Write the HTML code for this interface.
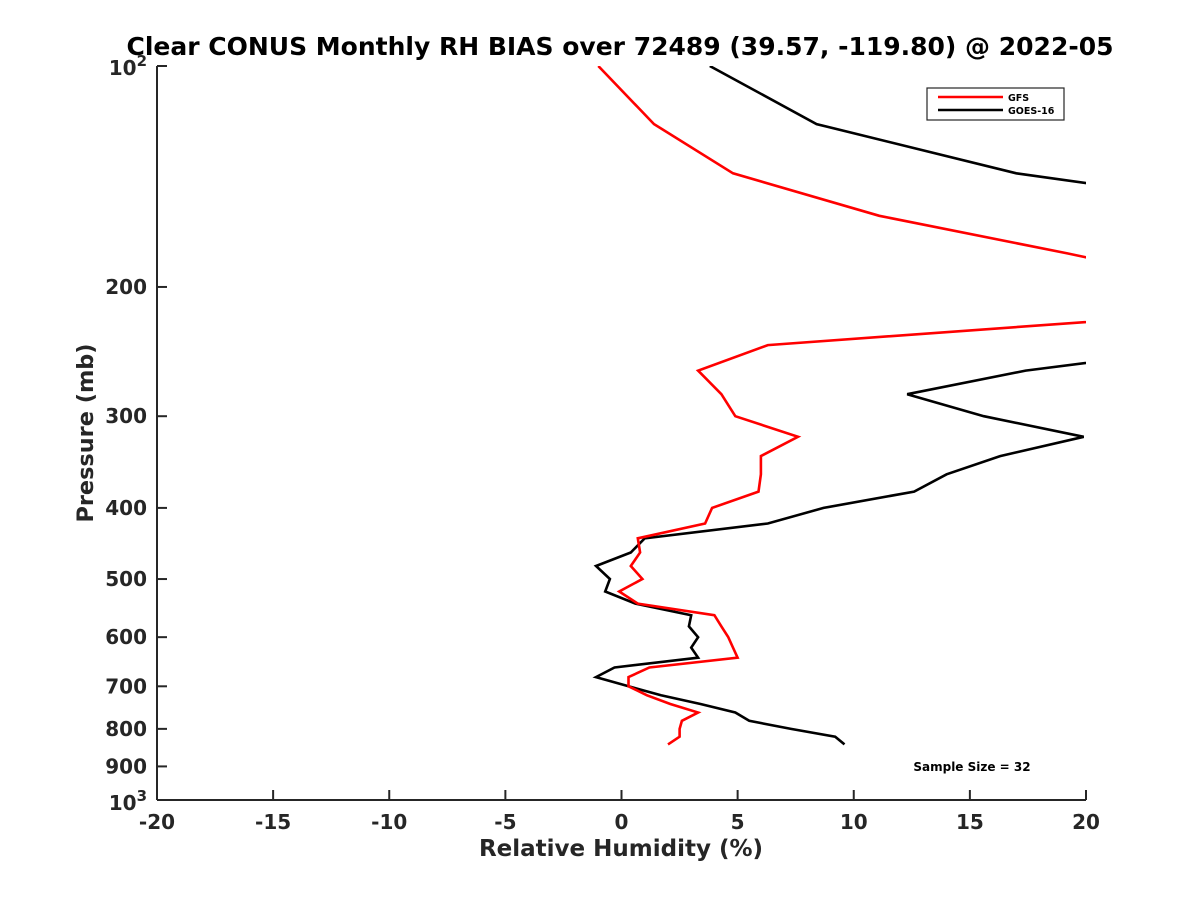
<!DOCTYPE html>
<html><head><meta charset="utf-8"><style>
body{margin:0;background:#fff;}
svg{display:block;font-family:"DejaVu Sans","Liberation Sans",sans-serif;font-weight:bold;}
</style></head><body>
<svg id="chart" width="1200" height="900" viewBox="0 0 1200 900">
<defs><clipPath id="plotclip"><rect x="157" y="66" width="929" height="734"/></clipPath></defs>
<text x="620" y="55" text-anchor="middle" font-size="25" fill="#000">Clear CONUS Monthly RH BIAS over 72489 (39.57, -119.80) @ 2022-05</text>
<g id="axes"></g>
<g id="series" clip-path="url(#plotclip)"></g>
<g>
<rect x="927" y="88" width="137" height="32" fill="#fff" stroke="#262626" stroke-width="1.2"/>
<line x1="938" y1="97" x2="1003" y2="97" stroke="#f00" stroke-width="2.5"/>
<text x="1008" y="101" font-size="9.5" fill="#000">GFS</text>
<line x1="938" y1="110" x2="1003" y2="110" stroke="#000" stroke-width="2.5"/>
<text x="1008" y="114" font-size="9.5" fill="#000">GOES-16</text>
</g>
<text x="972" y="771" text-anchor="middle" font-size="12" fill="#000">Sample Size = 32</text>
<text x="621" y="856" text-anchor="middle" font-size="23" fill="#262626">Relative Humidity (%)</text>
<text transform="translate(93,433) rotate(-90)" text-anchor="middle" font-size="22.4" fill="#262626">Pressure (mb)</text>
</svg>
<script>
const pressures=[100,120,140,160,180,200,220,240,260,280,300,320,340,360,380,400,420,440,460,480,500,520,540,560,580,600,620,640,660,680,700,720,740,760,780,800,820,840];
const gfsBias=[-1.0,1.4,4.8,11.1,19.2,26,22.8,6.3,3.3,4.3,4.9,7.6,6.0,6.0,5.9,3.9,3.6,0.7,0.8,0.4,0.9,-0.1,0.7,4.0,4.3,4.6,4.8,5.0,1.2,0.3,0.3,1.1,2.1,3.3,2.6,2.5,2.5,2.0];
const goesBias=[3.8,8.4,17.0,30,35,35,30,26,17.4,12.3,15.6,19.9,16.3,14.0,12.6,8.7,6.3,1.0,0.4,-1.1,-0.5,-0.7,0.6,3.0,2.9,3.3,3.0,3.3,-0.3,-1.1,0.3,1.7,3.4,4.9,5.5,7.3,9.2,9.6];
const xTicks=[-20,-15,-10,-5,0,5,10,15,20];
const yTicks=[200,300,400,500,600,700,800,900];
const NS="http://www.w3.org/2000/svg";
const X0=157,X1=1086,Y0=66,Y1=800;
function xs(v){return X0+(v+20)/40*(X1-X0);}
function ys(p){return Y0+(Math.log10(p)-2)*(Y1-Y0);}
function mk(tag,attrs,parent){const e=document.createElementNS(NS,tag);for(const k in attrs)e.setAttribute(k,attrs[k]);parent.appendChild(e);return e;}
const axes=document.getElementById('axes');
const ser=document.getElementById('series');
const C="#262626";
let a=mk('line',{x1:X0,y1:Y0,x2:X0,y2:Y1,stroke:C,'stroke-width':2},axes);


a=mk('line',{x1:X0,y1:Y1,x2:X1,y2:Y1,stroke:C,'stroke-width':2},axes);


xTicks.forEach(v=>{
 const t=mk('line',{x1:xs(v),y1:Y1,x2:xs(v),y2:Y1-10,stroke:C,'stroke-width':2},axes);
 
 
 const l=mk('text',{x:xs(v),y:Y1+29,'text-anchor':'middle','font-size':20,fill:C},axes);
 l.textContent=String(v);
 
 
});
yTicks.forEach(p=>{
 const t=mk('line',{x1:X0,y1:ys(p),x2:X0+10,y2:ys(p),stroke:C,'stroke-width':2},axes);
 
 
 const l=mk('text',{x:X0-10,y:ys(p)+7,'text-anchor':'end','font-size':20,fill:C},axes);
 l.textContent=String(p);
 
 
});
[[100,'2'],[1000,'3']].forEach(([p,e])=>{
 const t=mk('line',{x1:X0,y1:ys(p),x2:X0+10,y2:ys(p),stroke:C,'stroke-width':2},axes);
 
 
 const l=mk('text',{x:X0-10,y:ys(p)+(p===100?9:10),'text-anchor':'end','font-size':20,fill:C},axes);
 
 
 l.textContent='10';
 const s=mk('tspan',{dy:-9,'font-size':15},l);
 s.textContent=e;
});
function drawLine(vals,color,name){
 const d=vals.map((v,i)=>(i?'L':'M')+xs(v).toFixed(1)+','+ys(pressures[i]).toFixed(1)).join(' ');
 const p=mk('path',{d:d,fill:'none',stroke:color,'stroke-width':2.6,'stroke-linejoin':'miter'},ser);
 
 
}
drawLine(goesBias,'#000','goes16-line');
drawLine(gfsBias,'#f00','gfs-line');
</script>
</body></html>
